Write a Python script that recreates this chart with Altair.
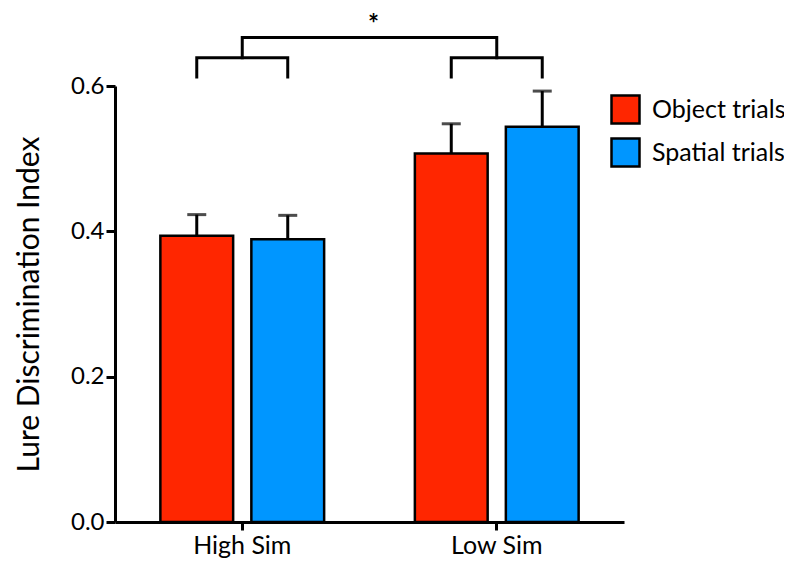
import altair as alt
import pandas as pd

categories = ["High Sim", "Low Sim"]
trials = ["Object trials", "Spatial trials"]
object_means = [0.394, 0.507]
spatial_means = [0.389, 0.544]
object_sem = [0.029, 0.041]
spatial_sem = [0.033, 0.049]
colors = ["#FF2600", "#0096FF"]
y_ticks = [0.0, 0.2, 0.4, 0.6]

# significance bracket levels (data units)
pair_low = 0.6124
pair_high = 0.639
top_level = 0.6667
star_level = 0.6842

FONT = "Lato"
WIDTH = 509
HEIGHT = 436

rows = []
for i, c in enumerate(categories):
    rows.append(dict(category=c, trial=trials[0], value=object_means[i], err=object_sem[i]))
    rows.append(dict(category=c, trial=trials[1], value=spatial_means[i], err=spatial_sem[i]))
df = pd.DataFrame(rows)
df["top"] = df["value"] + df["err"]

pair_rows = []
for c in categories:
    pair_rows += [
        dict(category=c, trial=trials[0], level=pair_low, ord=0),
        dict(category=c, trial=trials[0], level=pair_high, ord=1),
        dict(category=c, trial=trials[1], level=pair_high, ord=2),
        dict(category=c, trial=trials[1], level=pair_low, ord=3),
    ]
pair_df = pd.DataFrame(pair_rows)
top_df = pd.DataFrame([
    dict(category=categories[0], level=pair_high, ord=0),
    dict(category=categories[0], level=top_level, ord=1),
    dict(category=categories[1], level=top_level, ord=2),
    dict(category=categories[1], level=pair_high, ord=3),
])

x_enc = alt.X(
    "category:N", sort=categories,
    scale=alt.Scale(paddingInner=0.285, paddingOuter=0.1425),
    axis=alt.Axis(title=None, labelAngle=0, labelFontSize=25, labelFont=FONT,
                  labelColor="black", labelPadding=3, tickSize=8, tickWidth=3,
                  tickColor="black", domainWidth=3, domainColor="black"),
)
xo_enc = alt.XOffset("trial:N", sort=trials,
                     scale=alt.Scale(paddingInner=0.2, paddingOuter=0.1))
y_scale = alt.Scale(domain=[0, 0.6], nice=False)

bars = alt.Chart(df).mark_bar(stroke="black", strokeWidth=2.5).encode(
    x=x_enc,
    xOffset=xo_enc,
    y=alt.Y("value:Q", scale=y_scale,
            axis=alt.Axis(title="Lure Discrimination Index", titleFontSize=30,
                          titleFont=FONT, titleFontWeight="normal", titleColor="black",
                          titlePadding=26, values=y_ticks, format=".1f",
                          labelFontSize=24, labelFont=FONT, labelColor="black",
                          labelPadding=2, tickSize=9, tickWidth=3, tickColor="black",
                          domainWidth=3, domainColor="black", grid=False)),
    color=alt.Color("trial:N", sort=trials,
                    scale=alt.Scale(domain=trials, range=colors),
                    legend=alt.Legend(title=None, orient="none", legendX=495, legendY=8,
                                      symbolType="square", symbolSize=784,
                                      symbolStrokeColor="black", symbolStrokeWidth=2.5,
                                      symbolOpacity=1,
                                      labelFontSize=25, labelFont=FONT, labelColor="black",
                                      labelOffset=11, rowPadding=4, padding=0)),
)

err_rule = alt.Chart(df).mark_rule(color="black", strokeWidth=3).encode(
    x=alt.X("category:N", sort=categories),
    xOffset=alt.XOffset("trial:N", sort=trials),
    y="value:Q",
    y2="top:Q",
)
err_cap = alt.Chart(df).mark_tick(color="black", thickness=3, size=19,
                                  orient="horizontal").encode(
    x=alt.X("category:N", sort=categories),
    xOffset=alt.XOffset("trial:N", sort=trials),
    y="top:Q",
)

pair_br = alt.Chart(pair_df).mark_line(color="black", strokeWidth=3,
                                        strokeCap="square").encode(
    x=alt.X("category:N", sort=categories),
    xOffset=alt.XOffset("trial:N", sort=trials),
    y="level:Q",
    detail="category:N",
    order="ord:Q",
)
top_br = alt.Chart(top_df).mark_line(color="black", strokeWidth=3,
                                      strokeCap="square").encode(
    x=alt.X("category:N", sort=categories),
    y="level:Q",
    order="ord:Q",
)
star = alt.Chart(pd.DataFrame({"t": ["*"]})).mark_text(
    fontSize=26, fontWeight="bold", font=FONT, color="black", baseline="middle"
).encode(
    x=alt.value(WIDTH / 2 + 4),
    y=alt.datum(star_level),
    text="t:N",
)

chart = alt.layer(bars, err_rule, err_cap, pair_br, top_br, star).properties(
    width=WIDTH, height=HEIGHT,
    autosize=alt.AutoSizeParams(type="none"),
    padding={"left": 107, "top": 78, "right": 160, "bottom": 38},
).configure_view(stroke=None)

chart.save("out.html", embed_options={"renderer": "svg", "actions": False})
